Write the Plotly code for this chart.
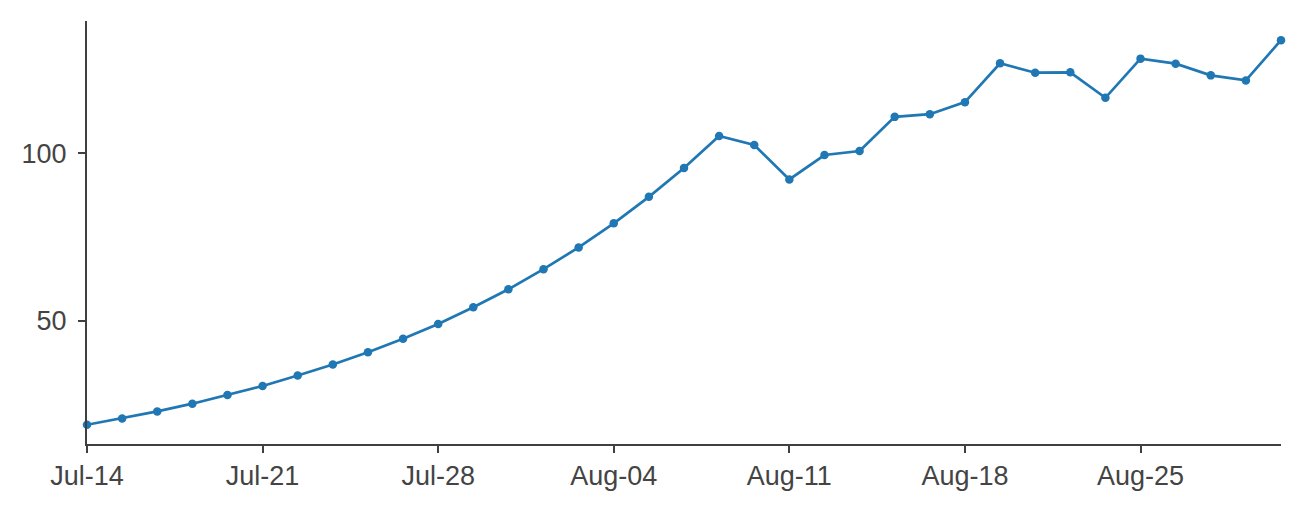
import plotly.graph_objects as go

dates = [
    "2014-07-14", "2014-07-15", "2014-07-16", "2014-07-17", "2014-07-18",
    "2014-07-21", "2014-07-22", "2014-07-23", "2014-07-24", "2014-07-25",
    "2014-07-28", "2014-07-29", "2014-07-30", "2014-07-31", "2014-08-01",
    "2014-08-04", "2014-08-05", "2014-08-06", "2014-08-07", "2014-08-08",
    "2014-08-11", "2014-08-12", "2014-08-13", "2014-08-14", "2014-08-15",
    "2014-08-18", "2014-08-19", "2014-08-20", "2014-08-21", "2014-08-22",
    "2014-08-25", "2014-08-26", "2014-08-27", "2014-08-28", "2014-08-29",
]
values = [
    18.9, 20.8, 22.9, 25.2, 27.8,
    30.5, 33.6, 36.9, 40.6, 44.6,
    49.0, 54.0, 59.4, 65.4, 71.9,
    79.1, 87.0, 95.6, 105.2, 102.5,
    92.2, 99.5, 100.7, 110.9, 111.7,
    115.3, 126.9, 124.1, 124.2, 116.6,
    128.3, 126.8, 123.3, 121.8, 133.8,
]
tick_dates = ["2014-07-14", "2014-07-21", "2014-07-28", "2014-08-04",
              "2014-08-11", "2014-08-18", "2014-08-25"]
tick_labels = ["Jul-14", "Jul-21", "Jul-28", "Aug-04", "Aug-11", "Aug-18", "Aug-25"]
y_ticks = [50, 100]

axis_color = "#404040"
text_color = "#444444"

fig = go.Figure()
fig.add_trace(go.Scatter(
    x=dates, y=values, mode="lines+markers",
    line=dict(color="#1f77b4", width=2.7),
    marker=dict(color="#1f77b4", size=8.5),
    cliponaxis=False,
    showlegend=False,
))

lo, hi = min(values), max(values)
pad = (hi - lo) * 0.05

fig.update_layout(
    template="none",
    width=1302, height=511,
    margin=dict(l=87, r=21, t=21, b=67, autoexpand=False),
    paper_bgcolor="white", plot_bgcolor="white",
    font=dict(family="Liberation Sans, Arial, sans-serif", size=27, color=text_color),
)
fig.update_xaxes(
    type="category", range=[0, len(dates) - 1],
    tickvals=tick_dates, ticktext=tick_labels,
    showgrid=False, zeroline=False, automargin=False,
    showline=True, linecolor=axis_color, linewidth=2,
    ticks="outside", ticklen=7, tickwidth=2, tickcolor=axis_color,
    ticklabelstandoff=0,
)
fig.update_yaxes(
    range=[lo - pad, hi + pad],
    tickvals=y_ticks,
    showgrid=False, zeroline=False, automargin=False,
    showline=True, linecolor=axis_color, linewidth=2,
    ticks="outside", ticklen=7, tickwidth=2, tickcolor=axis_color,
    ticklabelstandoff=6,
)

fig.write_html(
    "out.html",
    config={"displayModeBar": False},
    post_script="document.body.style.margin='0';document.body.style.overflow='hidden';",
)
